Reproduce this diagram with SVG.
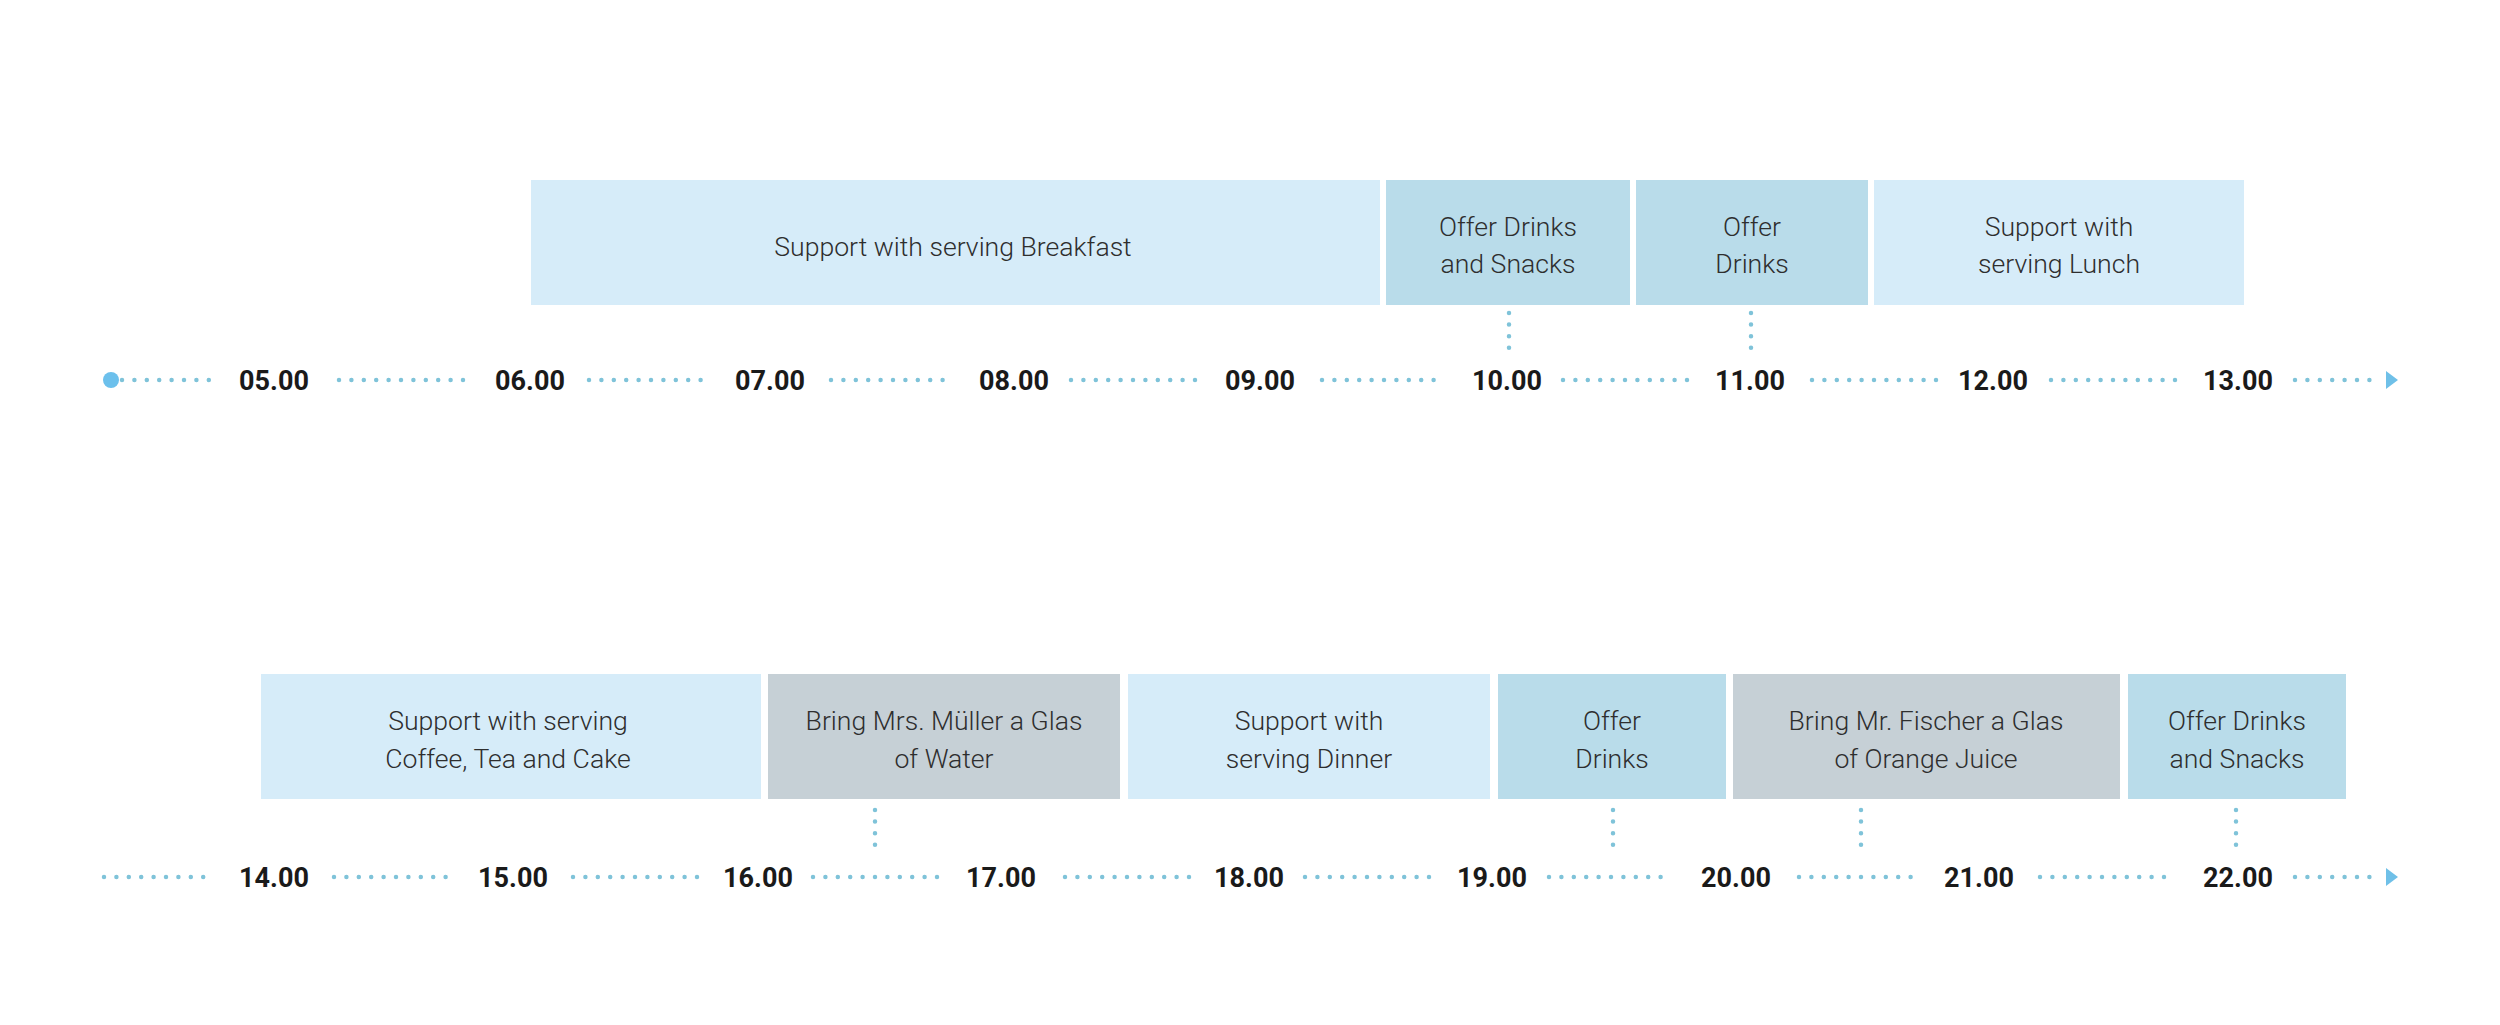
<svg xmlns="http://www.w3.org/2000/svg" width="2500" height="1025" viewBox="0 0 2500 1025">
<style>
.b1{fill:#d6ecf9}
.b2{fill:#b9dcea}
.b3{fill:#c6d0d6}
.t{font-family:Roboto,"Liberation Sans",sans-serif;font-weight:300;font-size:26.6px;fill:#2e2e2e;text-anchor:middle}
.l{font-family:Roboto,"Liberation Sans",sans-serif;font-weight:700;font-size:27px;fill:#1a1a1a;text-anchor:middle}
.d{stroke:#7fc3d9;stroke-width:4.5;stroke-linecap:round;stroke-dasharray:0 12.4;fill:none}
.v{stroke:#7fc3d9;stroke-width:4.5;stroke-linecap:round;stroke-dasharray:0 11.6;fill:none}
</style>
<rect width="2500" height="1025" fill="#ffffff"/>
<g id="connectors">
<circle cx="111" cy="380" r="8" fill="#6cc0ec"/>
<path class="d" d="M122 380H209M339 380H473M589 380H712M831 380H953M1071 380H1202M1322 380H1443M1563 380H1689M1812 380H1936M2051 380H2177M2295 380H2380"/>
<polygon points="2386,371 2398,380 2386,389" fill="#6fc0e8"/>
<path class="d" d="M104 877H215M334 877H457M573 877H697M813 877H937M1065 877H1189M1305 877H1430M1549 877H1671M1799 877H1921M2040 877H2175M2295 877H2380"/>
<polygon points="2386,868 2398,877 2386,886" fill="#6fc0e8"/>
<path class="v" d="M1509 313V348M1751 313V348M875 810V845M1613 810V845M1861 810V845M2236 810V845"/>
</g>
<g id="labels">
<text class="l" x="274" y="390">05.00</text>
<text class="l" x="530" y="390">06.00</text>
<text class="l" x="770" y="390">07.00</text>
<text class="l" x="1014" y="390">08.00</text>
<text class="l" x="1260" y="390">09.00</text>
<text class="l" x="1507" y="390">10.00</text>
<text class="l" x="1750" y="390">11.00</text>
<text class="l" x="1993" y="390">12.00</text>
<text class="l" x="2238" y="390">13.00</text>
<text class="l" x="274" y="887">14.00</text>
<text class="l" x="513" y="887">15.00</text>
<text class="l" x="758" y="887">16.00</text>
<text class="l" x="1001" y="887">17.00</text>
<text class="l" x="1249" y="887">18.00</text>
<text class="l" x="1492" y="887">19.00</text>
<text class="l" x="1736" y="887">20.00</text>
<text class="l" x="1979" y="887">21.00</text>
<text class="l" x="2238" y="887">22.00</text>
</g>
<g id="breakfast"><rect class="b1" x="531" y="180" width="849" height="125"/><text class="t" x="953" y="256">Support with serving Breakfast</text></g>
<g id="drinks-snacks-1"><rect class="b2" x="1386" y="180" width="244" height="125"/><text class="t" x="1508" y="236">Offer Drinks</text><text class="t" x="1508" y="273">and Snacks</text></g>
<g id="drinks-1"><rect class="b2" x="1636" y="180" width="232" height="125"/><text class="t" x="1752" y="236">Offer</text><text class="t" x="1752" y="273">Drinks</text></g>
<g id="lunch"><rect class="b1" x="1874" y="180" width="370" height="125"/><text class="t" x="2059" y="236">Support with</text><text class="t" x="2059" y="273">serving Lunch</text></g>
<g id="coffee"><rect class="b1" x="261" y="674" width="500" height="125"/><text class="t" x="508" y="730">Support with serving</text><text class="t" x="508" y="768">Coffee, Tea and Cake</text></g>
<g id="mueller"><rect class="b3" x="768" y="674" width="352" height="125"/><text class="t" x="944" y="730">Bring Mrs. Müller a Glas</text><text class="t" x="944" y="768">of Water</text></g>
<g id="dinner"><rect class="b1" x="1128" y="674" width="362" height="125"/><text class="t" x="1309" y="730">Support with</text><text class="t" x="1309" y="768">serving Dinner</text></g>
<g id="drinks-2"><rect class="b2" x="1498" y="674" width="228" height="125"/><text class="t" x="1612" y="730">Offer</text><text class="t" x="1612" y="768">Drinks</text></g>
<g id="fischer"><rect class="b3" x="1733" y="674" width="387" height="125"/><text class="t" x="1926" y="730">Bring Mr. Fischer a Glas</text><text class="t" x="1926" y="768">of Orange Juice</text></g>
<g id="drinks-snacks-2"><rect class="b2" x="2128" y="674" width="218" height="125"/><text class="t" x="2237" y="730">Offer Drinks</text><text class="t" x="2237" y="768">and Snacks</text></g>
</svg>
